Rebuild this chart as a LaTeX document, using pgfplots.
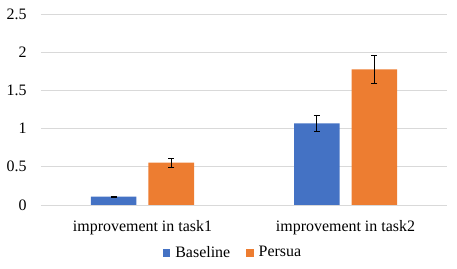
\documentclass[border=0pt]{standalone}
\usepackage{pgfplots}
\pgfplotsset{compat=1.18}
\usepackage{fontspec}
\setmainfont{Liberation Serif}
\definecolor{cblue}{HTML}{4472C4}
\definecolor{corange}{HTML}{ED7D31}
\definecolor{cgrid}{HTML}{D9D9D9}
\begin{document}
\rmfamily\fontsize{16}{19}\selectfont
\begin{tikzpicture}[font=\rmfamily\fontsize{16}{19}\selectfont]
\useasboundingbox (-41bp,-64bp) rectangle (416bp,205bp);
\begin{axis}[
  scale only axis, width=406bp, height=191bp,
  at={(0,0)}, anchor=south west,
  ybar=12bp, bar width=45.5bp,
  xmin=-0.5, xmax=1.5, ymin=0, ymax=2.5,
  xtick={0,1}, xticklabels={improvement in task1, improvement in task2},
  ytick={0,0.5,1,1.5,2,2.5},
  axis line style={draw=none},
  tick style={draw=none},
  ymajorgrids, major grid style={cgrid, line width=0.9bp},
  /pgf/number format/assume math mode=true,
  tick label style={font=\rmfamily\fontsize{16}{19}\selectfont},
  yticklabel style={xshift=-9bp},
  xticklabel style={yshift=-6bp},
  legend style={at={(axis description cs:0.473,-0.251)}, anchor=center, draw=none,
    font=\rmfamily\fontsize{16}{19}\selectfont, legend columns=2,
    /tikz/every even column/.append style={column sep=14bp},
    /tikz/every odd column/.append style={column sep=3bp}},
  legend image code/.code={\fill[#1] (0bp,-3.75bp) rectangle (7.5bp,3.75bp);},
  error bars/error bar style={black, line width=0.6bp},
  error bars/error mark options={rotate=90, mark size=3bp, black, line width=0.6bp},
]
\addplot[fill=cblue, draw=none,
  error bars/.cd, y dir=both, y explicit]
  coordinates {(0,0.11) +- (0,0.01) (1,1.07) +- (0,0.11)};
\addlegendentry{Baseline}
\addplot[fill=corange, draw=none,
  error bars/.cd, y dir=both, y explicit]
  coordinates {(0,0.555) +- (0,0.06) (1,1.775) +- (0,0.18)};
\addlegendentry{Persua}
\end{axis}
\end{tikzpicture}
\end{document}
